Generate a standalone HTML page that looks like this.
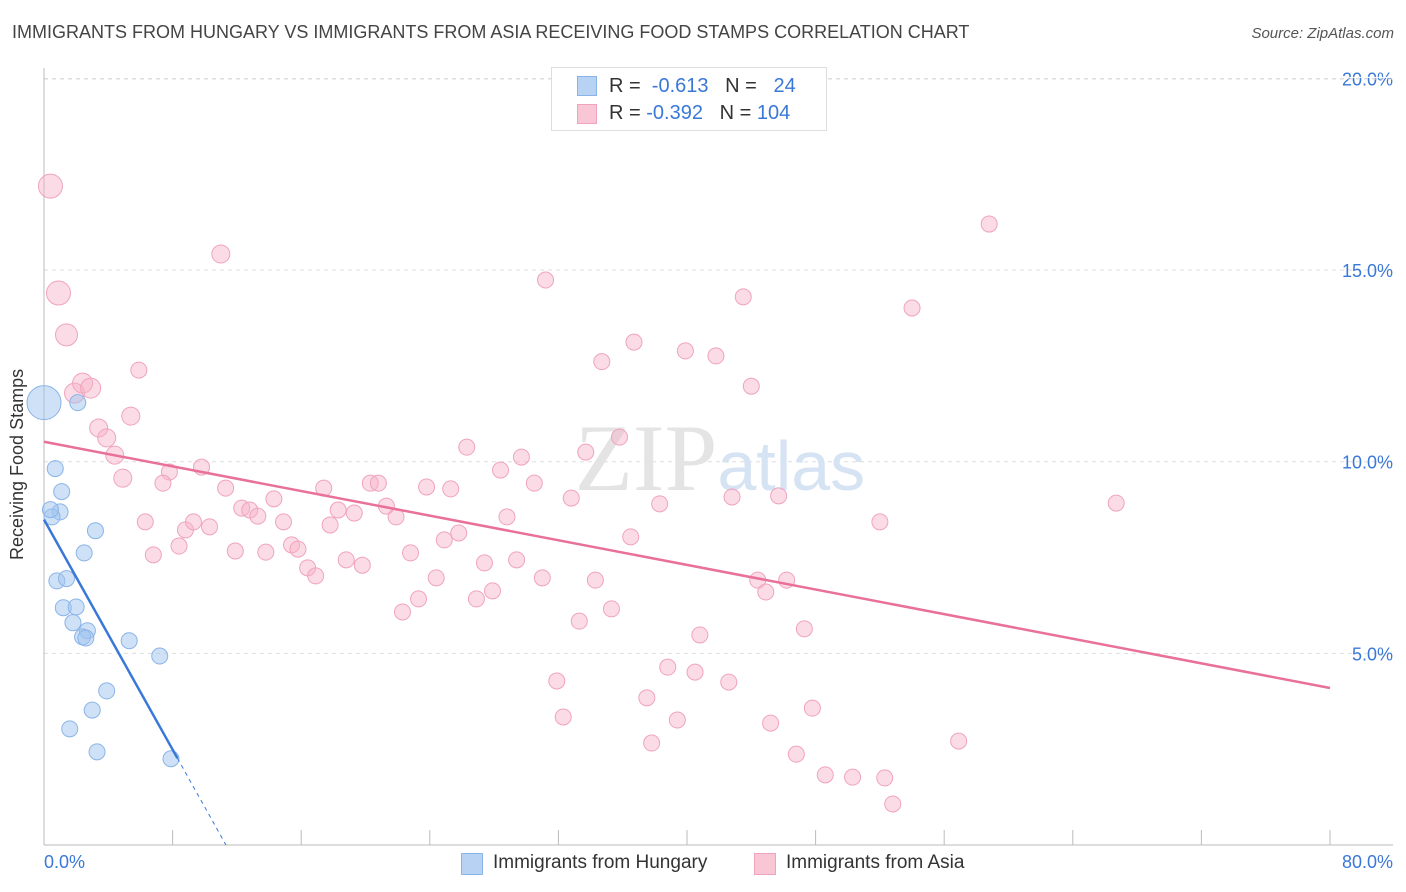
<!DOCTYPE html>
<html><head><meta charset="utf-8"><style>
body{margin:0;background:#fff;font-family:"Liberation Sans",sans-serif;}
#wrap{position:relative;width:1406px;height:892px;overflow:hidden;}
.t{position:absolute;white-space:nowrap;}
</style></head><body>
<div id="wrap">
<div class="t" style="left:12px;top:22px;font-size:18px;color:#444;">IMMIGRANTS FROM HUNGARY VS IMMIGRANTS FROM ASIA RECEIVING FOOD STAMPS CORRELATION CHART</div>
<div class="t" style="right:12px;top:25px;font-size:15px;color:#555;font-style:italic;">Source: ZipAtlas.com</div>
<svg id="chart" width="1406" height="892" style="position:absolute;left:0;top:0"></svg>
</div>
<script>
const hungaryX=[0,2.1,0.7,1.1,1.0,0.5,3.2,2.5,0.8,1.4,1.2,2.0,1.8,2.7,2.4,2.6,5.3,7.2,3.9,3.0,1.6,3.3,7.9,0.4];
const hungaryY=[11.54,11.54,9.82,9.22,8.69,8.56,8.2,7.62,6.89,6.95,6.19,6.21,5.8,5.59,5.43,5.4,5.33,4.93,4.02,3.52,3.03,2.43,2.25,8.75];
const hungaryR=[17,8,8,8,8,8,8,8,8,8,8,8,8,8,8,8,8,8,8,8,8,8,8,8];
const asiaX=[0.4,0.9,1.4,11.0,31.2,58.8,43.5,54.0,34.7,36.7,39.9,41.8,44.0,5.9,1.9,2.4,2.9,5.4,3.4,3.9,4.4,4.9,26.3,35.8,33.7,29.7,28.4,7.8,9.8,7.4,11.3,14.3,17.4,20.3,20.8,23.8,25.3,30.5,32.8,38.3,42.8,45.7,66.7,6.3,8.8,9.3,10.3,12.3,12.8,13.3,14.9,17.8,18.3,19.3,21.3,21.9,28.8,52.0,8.4,6.8,11.9,13.8,15.4,15.8,25.8,24.9,36.5,22.8,18.8,19.8,16.4,16.9,27.4,29.4,24.4,31.0,34.3,44.4,46.2,44.9,27.9,26.9,23.3,22.3,35.3,33.3,47.3,40.8,38.8,40.5,31.9,42.6,37.5,47.8,32.3,39.4,45.2,37.8,56.9,46.8,48.6,50.3,52.3,52.8];
const asiaY=[17.19,14.40,13.31,15.42,14.74,16.20,14.30,14.01,12.61,13.12,12.89,12.76,11.97,12.39,11.79,12.05,11.92,11.19,10.88,10.62,10.17,9.57,10.38,10.64,10.25,10.12,9.78,9.73,9.86,9.44,9.31,9.03,9.31,9.44,9.44,9.34,9.29,9.44,9.05,8.90,9.08,9.11,8.92,8.43,8.22,8.43,8.30,8.79,8.74,8.58,8.43,8.35,8.74,8.66,8.84,8.56,8.56,8.43,7.80,7.57,7.67,7.64,7.83,7.72,8.14,7.96,8.04,7.62,7.44,7.30,7.23,7.02,7.36,7.44,6.97,6.97,6.91,6.91,6.91,6.60,6.63,6.42,6.42,6.08,6.16,5.84,5.64,5.48,4.64,4.51,4.28,4.25,3.84,3.57,3.34,3.26,3.18,2.66,2.71,2.37,1.83,1.77,1.75,1.07];
const asiaR=[12,12,11,9,8,8,8,8,8,8,8,8,8,8,10,10,10,9,9,9,9,9,8,8,8,8,8,8,8,8,8,8,8,8,8,8,8,8,8,8,8,8,8,8,8,8,8,8,8,8,8,8,8,8,8,8,8,8,8,8,8,8,8,8,8,8,8,8,8,8,8,8,8,8,8,8,8,8,8,8,8,8,8,8,8,8,8,8,8,8,8,8,8,8,8,8,8,8,8,8,8,8,8,8];
const yTicks=[5,10,15,20];
const yTickLabels=["5.0%","10.0%","15.0%","20.0%"];
const xTickVals=[0,8,16,24,32,40,48,56,64,72,80];
const hungaryTrend=[8.49,-0.75];
const asiaTrend=[10.52,-0.0803];

const X0=44,X1=1330,Y0=845,PPY=38.33;
const sx=v=>X0+(X1-X0)*v/80;
const sy=v=>Y0-v*PPY;
const svg=document.getElementById('chart');
const NS='http://www.w3.org/2000/svg';
function mk(tag,attrs){const e=document.createElementNS(NS,tag);for(const k in attrs)e.setAttribute(k,attrs[k]);svg.appendChild(e);return e;}

yTicks.forEach((t,i)=>{
  const g=mk('line',{x1:44,x2:1393,y1:sy(t),y2:sy(t),stroke:'#ddd','stroke-dasharray':'4,4'});
  
  
  const tx=mk('text',{x:1393,y:sy(t)+7,'text-anchor':'end','font-size':18,fill:'#3a78d8','font-family':'Liberation Sans'});
  tx.textContent=yTickLabels[i];
  
  
});
const tg=mk('line',{x1:44,x2:1393,y1:sy(20)-1,y2:sy(20)-1,stroke:'#fff'});
const gl=mk('line',{x1:44,x2:1393,y1:79,y2:79,stroke:'#ddd','stroke-dasharray':'4,4'});


const ya=mk('line',{x1:44,x2:44,y1:68,y2:845,stroke:'#bbb'});


const xa=mk('line',{x1:44,x2:1393,y1:845,y2:845,stroke:'#bbb'});


xTickVals.forEach(v=>{
  const l=mk('line',{x1:sx(v),x2:sx(v),y1:830,y2:845,stroke:'#bbb'});
  
  
});
const wm=mk('text',{x:720,y:490,'text-anchor':'middle','font-size':95,fill:'#e4e4e4','font-family':'Liberation Serif'});
wm.innerHTML='ZIP<tspan fill="#d6e3f3" font-family="Liberation Sans" font-size="70">atlas</tspan>';



asiaX.forEach((x,i)=>{
  const c=mk('circle',{cx:sx(x),cy:sy(asiaY[i]),r:asiaR[i],fill:'rgba(246,178,200,0.45)',stroke:'#f0a3bd','stroke-width':1});
  
  
});
hungaryX.forEach((x,i)=>{
  const c=mk('circle',{cx:sx(x),cy:sy(hungaryY[i]),r:hungaryR[i],fill:'rgba(160,196,240,0.5)',stroke:'#8ab4e8','stroke-width':1});
  
  
});
const xEndSolid=8.3, xZero=-hungaryTrend[0]/hungaryTrend[1];
const hl=mk('line',{x1:sx(0),y1:sy(hungaryTrend[0]),x2:sx(xEndSolid),y2:sy(hungaryTrend[0]+hungaryTrend[1]*xEndSolid),stroke:'#3a78d8','stroke-width':2.5});


const hd=mk('line',{x1:sx(xEndSolid),y1:sy(hungaryTrend[0]+hungaryTrend[1]*xEndSolid),x2:sx(xZero),y2:sy(0),stroke:'#3a78d8','stroke-width':1,'stroke-dasharray':'4,4'});


const al=mk('line',{x1:sx(0),y1:sy(asiaTrend[0]),x2:sx(80),y2:sy(asiaTrend[0]+asiaTrend[1]*80),stroke:'#e8709a','stroke-width':2.5});


</script>
<div class="t" style="left:44px;top:852px;font-size:18px;color:#3a78d8;">0.0%</div>
<div class="t" style="right:13px;top:852px;font-size:18px;color:#3a78d8;">80.0%</div>
<div class="t" style="left:7px;top:560px;font-size:18px;color:#333;transform:rotate(-90deg);transform-origin:0 0;">Receiving Food Stamps</div>
<div style="position:absolute;left:551px;top:67px;width:274px;height:62px;border:1px solid #ddd;background:#fff;font-size:20px;">
  <div class="t" style="left:25px;top:8px;width:18px;height:18px;background:#b8d2f4;border:1px solid #8ab4e8;"></div>
  <div class="t" style="left:57px;top:7px;color:#333;">R = <span style="color:#3a78d8">&nbsp;-0.613</span>&nbsp;&nbsp;&nbsp;N = &nbsp;&nbsp;<span style="color:#3a78d8">24</span></div>
  <div class="t" style="left:25px;top:36px;width:18px;height:18px;background:#f9c6d5;border:1px solid #f0a3bd;"></div>
  <div class="t" style="left:57px;top:34px;color:#333;">R = <span style="color:#3a78d8">-0.392</span>&nbsp;&nbsp;&nbsp;N = <span style="color:#3a78d8">104</span></div>
</div>
<div class="t" style="left:461px;top:853px;width:20px;height:20px;background:#b8d2f4;border:1px solid #8ab4e8;"></div>
<div class="t" style="left:493px;top:852px;font-size:19px;color:#333;">Immigrants from Hungary</div>
<div class="t" style="left:754px;top:853px;width:20px;height:20px;background:#f9c6d5;border:1px solid #f0a3bd;"></div>
<div class="t" style="left:786px;top:852px;font-size:19px;color:#333;">Immigrants from Asia</div>
</body></html>
